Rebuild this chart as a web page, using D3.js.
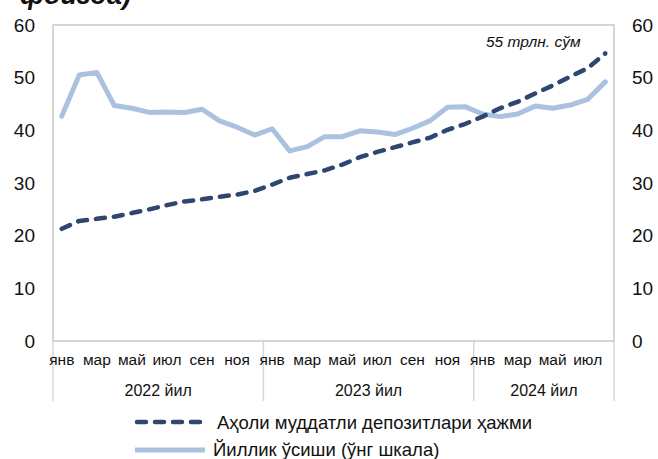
<!DOCTYPE html>
<html><head><meta charset="utf-8">
<script src="https://cdn.jsdelivr.net/npm/d3@7"></script>
<style>
html,body{margin:0;padding:0;background:#fff;}
svg{display:block;font-family:"Liberation Sans",Arial,sans-serif;}
</style></head>
<body>
<svg id="chart" width="658" height="459"></svg>
<script>
// ---- data ----
const months = ["янв","фев","мар","апр","май","июн","июл","авг","сен","окт","ноя","дек",
                "янв","фев","мар","апр","май","июн","июл","авг","сен","окт","ноя","дек",
                "янв","фев","мар","апр","май","июн","июл","авг"];
const monthTickLabels = ["янв","","мар","","май","","июл","","сен","","ноя","",
                         "янв","","мар","","май","","июл","","сен","","ноя","",
                         "янв","","мар","","май","","июл",""];
const years = ["2022 йил","2023 йил","2024 йил"];
const yearMonthCounts = [12,12,8];
const deposits = [21.3,22.8,23.2,23.6,24.3,25.0,25.8,26.5,26.9,27.4,27.8,28.5,
                  29.7,31.0,31.7,32.4,33.5,34.9,35.9,36.8,37.7,38.6,40.1,41.2,
                  42.6,44.2,45.4,47.0,48.5,50.2,51.8,54.6];
const growth = [42.7,50.5,51.0,44.7,44.2,43.4,43.5,43.4,44.0,41.8,40.6,39.1,
                40.3,36.1,36.9,38.8,38.8,39.9,39.7,39.2,40.4,41.8,44.4,44.5,
                43.1,42.6,43.1,44.6,44.2,44.8,45.9,49.2];
const yTicks = [0,10,20,30,40,50,60];
const seriesNames = ["Аҳоли муддатли депозитлари ҳажми","Йиллик ўсиши (ўнг шкала)"];
const annotation = "55 трлн. сўм";
const titleTail = "фоизда)";

// ---- layout ----
const L = 53, R = 614, T = 25, B = 341;
const svg = d3.select("#chart");
const idx = d3.range(months.length);
const x = d3.scaleBand().domain(idx).range([L, R]).padding(0);
const yL = d3.scaleLinear().domain([0,60]).range([B, T]);
const yR = d3.scaleLinear().domain([0,60]).range([B, T]);
const cx = i => x(i) + x.bandwidth()/2;

const darkC = "#2f4670", lightC = "#abc1e0", gridC = "#c8c8c8";

// title fragment cut off at top
svg.append("text").attr("x", 20).attr("y", 4)
  .attr("font-size", 27).attr("font-style","italic").attr("font-weight","bold")
  .attr("fill","#111").text(titleTail);

// plot border
svg.append("rect").attr("x", L).attr("y", T).attr("width", R-L).attr("height", B-T)
  .attr("fill","none").attr("stroke", gridC).attr("stroke-width", 1.5);

// year separators
let acc = 0;
const seps = [0];
yearMonthCounts.forEach(c => { acc += c; seps.push(acc); });
seps.forEach(s => {
  const xx = s < months.length ? x(s) : R;
  svg.append("line").attr("x1", xx).attr("x2", xx).attr("y1", B).attr("y2", 401)
    .attr("stroke", "#d6d6d6").attr("stroke-width", 1.5);
});
// year labels
years.forEach((yname, k) => {
  const a = seps[k], b = seps[k+1];
  const x0 = x(a), x1 = b < months.length ? x(b) : R;
  svg.append("text").attr("x", (x0+x1)/2).attr("y", 396).attr("text-anchor","middle")
    .attr("font-size", 16).attr("fill","#111").text(yname);
});

// axes
const gL = svg.append("g").attr("transform", `translate(${L},0)`)
  .call(d3.axisLeft(yL).tickValues(yTicks).tickSize(0).tickPadding(18));
const gR = svg.append("g").attr("transform", `translate(${R},0)`)
  .call(d3.axisRight(yR).tickValues(yTicks).tickSize(0).tickPadding(18));
[gL, gR].forEach(g => {
  g.select(".domain").remove();
  g.selectAll("text").attr("font-size", 19).attr("fill","#111")
    .attr("font-family","'Liberation Sans',Arial,sans-serif");
});
const gB = svg.append("g").attr("transform", `translate(0,${B})`)
  .call(d3.axisBottom(x).tickSize(0).tickPadding(13).tickFormat(i => monthTickLabels[i]));
gB.select(".domain").remove();
gB.selectAll("text").attr("font-size", 15.5).attr("fill","#111")
  .attr("font-family","'Liberation Sans',Arial,sans-serif");

// lines
const lineGrowth = d3.line().x((d,i)=>cx(i)).y(d=>yR(d));
const lineDep = d3.line().x((d,i)=>cx(i)).y(d=>yL(d));
svg.append("path").datum(growth).attr("d", lineGrowth)
  .attr("fill","none").attr("stroke", lightC).attr("stroke-width", 5)
  .attr("stroke-linejoin","round").attr("stroke-linecap","round");
svg.append("path").datum(deposits).attr("d", lineDep)
  .attr("fill","none").attr("stroke", darkC).attr("stroke-width", 4.5)
  .attr("stroke-dasharray","9,9").attr("stroke-linecap","round")
  .attr("stroke-linejoin","round");

// annotation
svg.append("text").attr("x", 486).attr("y", 47)
  .attr("font-size", 15.5).attr("font-style","italic").attr("fill","#111").text(annotation);

// legend
const lg = svg.append("g");
lg.append("line").attr("x1",137).attr("x2",202).attr("y1",422).attr("y2",422)
  .attr("stroke", darkC).attr("stroke-width",4.5).attr("stroke-dasharray","9,9")
  .attr("stroke-linecap","round");
lg.append("text").attr("x",217).attr("y",429).attr("font-size",18.5).attr("fill","#111")
  .text(seriesNames[0]);
lg.append("line").attr("x1",135).attr("x2",205).attr("y1",450).attr("y2",450)
  .attr("stroke", lightC).attr("stroke-width",5);
lg.append("text").attr("x",213).attr("y",456).attr("font-size",18.5).attr("fill","#111")
  .text(seriesNames[1]);
</script>
</body></html>
